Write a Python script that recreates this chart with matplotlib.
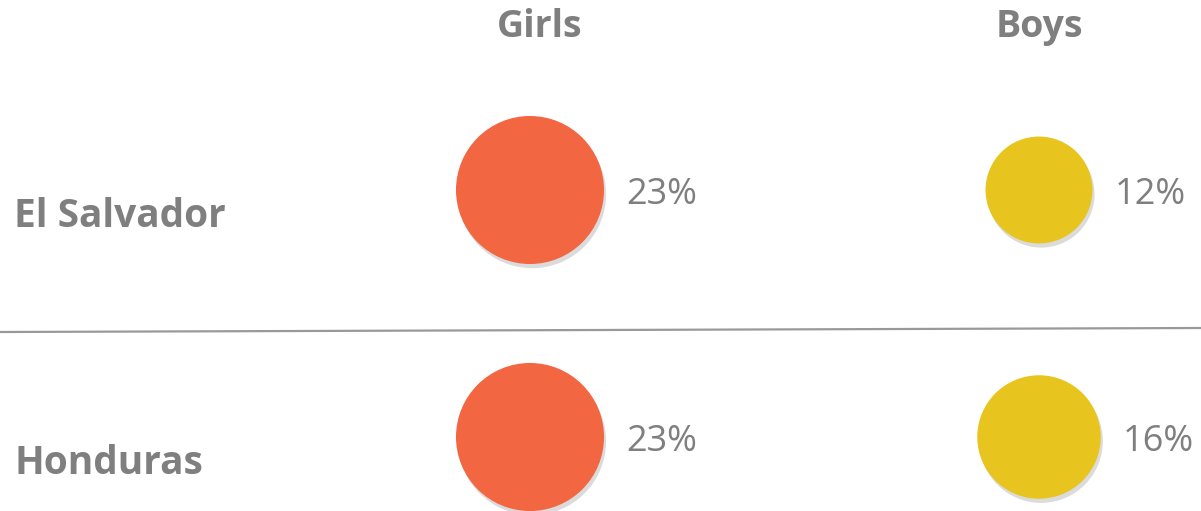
import matplotlib
matplotlib.use('Agg')
import matplotlib.pyplot as plt
import matplotlib.patheffects as pe

# data
countries = ['El Salvador', 'Honduras']
groups = ['Girls', 'Boys']
girls = [23, 23]
boys = [12, 16]

GRAY = '#7f7f7f'
COLORS = {'Girls': '#f26641', 'Boys': '#e8c41e'}
plt.rcParams['font.family'] = ['Open Sans', 'DejaVu Sans']

W, H, DPI = 1201, 511, 100
fig = plt.figure(figsize=(W / DPI, H / DPI), dpi=DPI)
ax = fig.add_axes([0, 0, 1, 1])
ax.set_xlim(0, W)
ax.set_ylim(H, 0)
ax.axis('off')

col_x = [530, 1039]
row_y = [190, 437]
k = 494  # marker area (pt^2) per percent

# column headers
for hx, g in zip([540, 1039], groups):
    ax.text(hx, 37, g, ha='center', va='baseline', fontsize=27,
            fontweight='bold', color=GRAY)

# row labels
for ry, c in zip(row_y, countries):
    ax.text(14, ry + 37, c, ha='left', va='baseline', fontsize=28,
            fontweight='bold', color=GRAY)

# divider
ax.plot([0, W], [332, 328], color='#999999', lw=1.6)

shadow = [pe.SimplePatchShadow(offset=(1.5, -3), shadow_rgbFace='#888888', alpha=0.3),
          pe.Normal()]
for g, vals, gx in zip(groups, [girls, boys], col_x):
    for ry, v in zip(row_y, vals):
        ax.scatter([gx], [ry], s=k * v, color=COLORS[g], linewidths=0,
                   path_effects=shadow, zorder=3)
        r_px = (k * v) ** 0.5 / 2 / 0.72
        ax.text(gx + r_px + 22, ry + 14, '%d%%' % v, ha='left', va='baseline',
                fontsize=26, color=GRAY)

fig.savefig('out.png', dpi=DPI)
